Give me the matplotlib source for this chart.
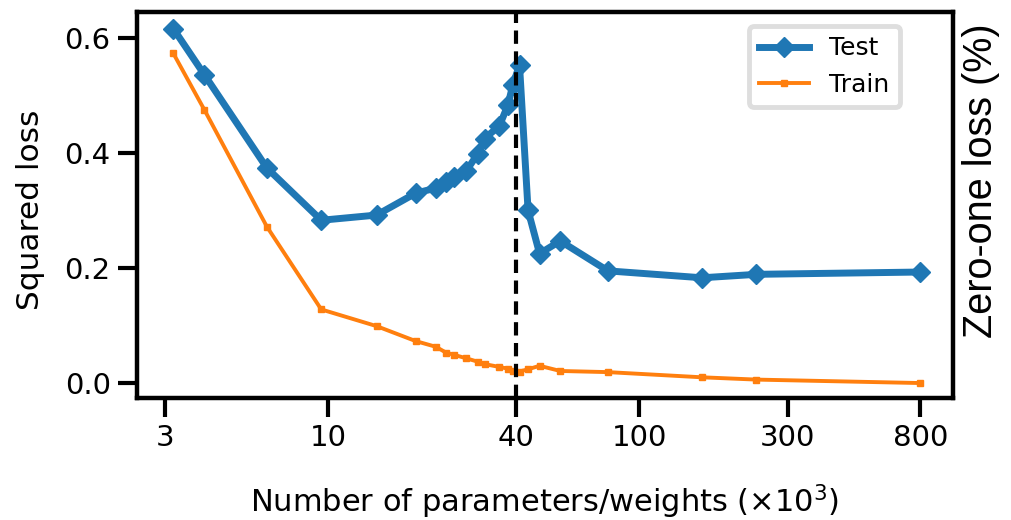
import matplotlib.pyplot as plt

# Data (parameters in thousands)
test_x = [3.18, 4.0, 6.35, 9.5, 14.3, 19.1, 22.2, 23.9, 25.4, 27.8, 30.3, 31.8,
          35.5, 37.8, 39.2, 41.2, 43.9, 47.8, 55.7, 79.3, 159, 238, 800]
test_y = [0.616, 0.536, 0.374, 0.283, 0.292, 0.330, 0.339, 0.350, 0.359, 0.369,
          0.399, 0.425, 0.447, 0.483, 0.518, 0.553, 0.300, 0.225, 0.247, 0.195,
          0.183, 0.189, 0.193]
train_y = [0.573, 0.475, 0.272, 0.128, 0.099, 0.073, 0.063, 0.053, 0.049, 0.043,
           0.037, 0.033, 0.028, 0.025, 0.021, 0.020, 0.024, 0.030, 0.021, 0.019,
           0.010, 0.006, 0.000]
xticks = [3, 10, 40, 100, 300, 800]
yticks = [0.0, 0.2, 0.4, 0.6]
threshold = 40

fig = plt.figure(figsize=(10.12, 5.2), dpi=100)
ax = fig.add_axes([0.1354, 0.2346, 0.8063, 0.7423])

ax.plot(test_x, test_y, color='#1f77b4', lw=5, marker='D', ms=10, label='Test', zorder=3)
ax.plot(test_x, train_y, color='#ff7f0e', lw=2.8, marker='s', ms=4, label='Train', zorder=2)
ax.axvline(threshold, color='black', ls='--', lw=3, dashes=(3.2, 1.8), zorder=4)

ax.set_xscale('log')
ax.set_xlim(2.43, 1019)
ax.set_ylim(-0.026, 0.645)
ax.set_xticks(xticks)
ax.set_xticklabels([str(t) for t in xticks])
ax.minorticks_off()
ax.set_yticks(yticks)
ax.set_yticklabels(['%.1f' % t for t in yticks])
ax.tick_params(axis='both', labelsize=21, width=3, length=14, pad=5)

for s in ax.spines.values():
    s.set_linewidth(3.2)

ax.set_xlabel('Number of parameters/weights ($\\times 10^3$)', fontsize=22, labelpad=22)
ax.set_ylabel('Squared loss', fontsize=22.5)
ax.yaxis.set_label_coords(-0.113, 0.487)

# right-hand label (no ticks), sits a bit above the axis centre
fig.text(0.969, 0.652, 'Zero-one loss (%)', rotation=90, ha='center', va='center',
         fontsize=28.5, family='Liberation Sans')

leg = ax.legend(loc='upper right', fontsize=18, frameon=True, fancybox=True,
                borderpad=0.4, handlelength=2.0, handletextpad=0.8,
                bbox_to_anchor=(0.95, 0.995))
leg.get_frame().set_edgecolor('#d6d6d6')
leg.get_frame().set_linewidth(3.5)

fig.savefig('out.png', dpi=100)
